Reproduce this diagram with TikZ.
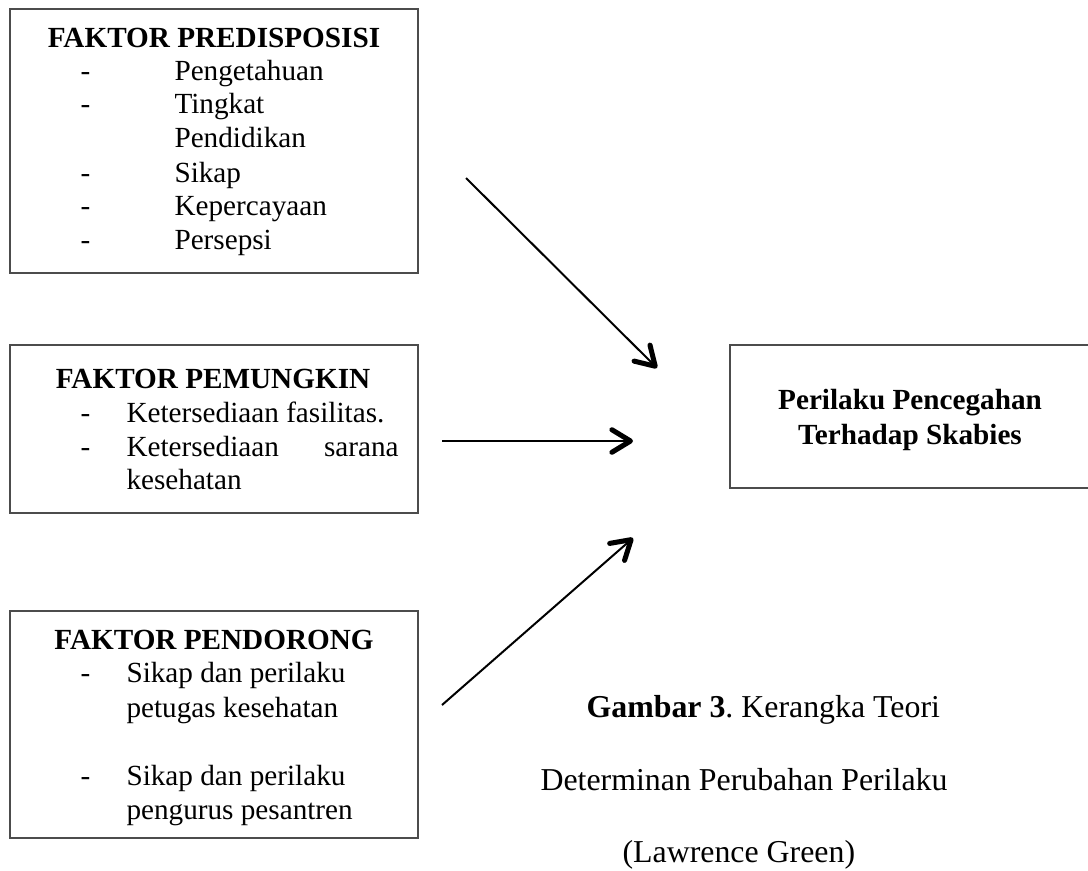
\documentclass[tikz,border=0pt]{standalone}
\usepackage{fontspec}
\setmainfont{Liberation Serif}
\usetikzlibrary{arrows.meta,fit}
\frenchspacing
\begin{document}
\begin{tikzpicture}[x=0.3767pt,y=-0.3767pt,
  boxframe/.style={draw=black!70,line width=0.45pt,inner sep=0pt},
  ttl/.style={font=\fontsize{11}{13}\selectfont\bfseries,anchor=base,inner sep=0pt},
  itm/.style={font=\fontsize{11}{13}\selectfont,anchor=base west,inner sep=0pt},
  captext/.style={font=\fontsize{12}{14}\selectfont,anchor=base west,inner sep=0pt},
  conn/.style={line width=0.75pt,-{Straight Barb[length=7pt,width=8.5pt,line width=1.9pt,round]}}]
\useasboundingbox (0,0) rectangle (1088,870);
\clip (0,0) rectangle (1088,870);
\fill[white] (0,0) rectangle (1088,870);
% boxes
\coordinate (b1nw) at (10,9);   \coordinate (b1se) at (418,273);
\coordinate (b2nw) at (10,345); \coordinate (b2se) at (418,513);
\coordinate (b3nw) at (10,611); \coordinate (b3se) at (418,838);
\coordinate (b4nw) at (730,345);\coordinate (b4se) at (1090,488);
\node[boxframe,fit=(b1nw)(b1se)] (box1) {};
\node[boxframe,fit=(b2nw)(b2se)] (box2) {};
\node[boxframe,fit=(b3nw)(b3se)] (box3) {};
\node[boxframe,fit=(b4nw)(b4se)] (box4) {};
% box 1
\node[ttl] (t1) at (214,47) {FAKTOR PREDISPOSISI};
\node[itm] (d11) at (80,80) {-};  \node[itm] (i11) at (174,80) {Pengetahuan};
\node[itm] (d12) at (80,113) {-}; \node[itm] (i12) at (174,113) {Tingkat};
\node[itm] (i13) at (174,147) {Pendidikan};
\node[itm] (d14) at (80,182) {-}; \node[itm] (i14) at (174,182) {Sikap};
\node[itm] (d15) at (80,215) {-}; \node[itm] (i15) at (174,215) {Kepercayaan};
\node[itm] (d16) at (80,249) {-}; \node[itm] (i16) at (174,249) {Persepsi};
% box 2
\node[ttl] (t2) at (213,388) {FAKTOR PEMUNGKIN};
\node[itm] (d21) at (80,422) {-}; \node[itm] (i21) at (126,422) {Ketersediaan fasilitas.};
\node[itm] (d22) at (80,456) {-}; \node[itm] (i22) at (126,456) {\makebox[102.5pt][s]{Ketersediaan sarana}};
\node[itm] (i23) at (126,489) {kesehatan};
% box 3
\node[ttl] (t3) at (214,649) {FAKTOR PENDORONG};
\node[itm] (d31) at (80,682) {-}; \node[itm] (i31) at (126,682) {Sikap dan perilaku};
\node[itm] (i32) at (126,717) {petugas kesehatan};
\node[itm] (d33) at (80,785) {-}; \node[itm] (i33) at (126,785) {Sikap dan perilaku};
\node[itm] (i34) at (126,819) {pengurus pesantren};
% box 4
\node[ttl] (t4a) at (910,409) {Perilaku Pencegahan};
\node[ttl] (t4b) at (910,444) {Terhadap Skabies};
% caption
\node[captext] (c1) at (586,717) {\textbf{Gambar 3}. Kerangka Teori};
\node[captext] (c2) at (540,790) {Determinan Perubahan Perilaku};
\node[captext] (c3) at (622,862) {(Lawrence Green)};
% arrows
\coordinate (a1s) at (466,178); \coordinate (a1e) at (657,368);
\coordinate (a2s) at (442,441); \coordinate (a2e) at (633,441);
\coordinate (a3s) at (442,705); \coordinate (a3e) at (633,538);
\draw[conn] (a1s) -- (a1e);
\draw[conn] (a2s) -- (a2e);
\draw[conn] (a3s) -- (a3e);
\end{tikzpicture}
\end{document}
